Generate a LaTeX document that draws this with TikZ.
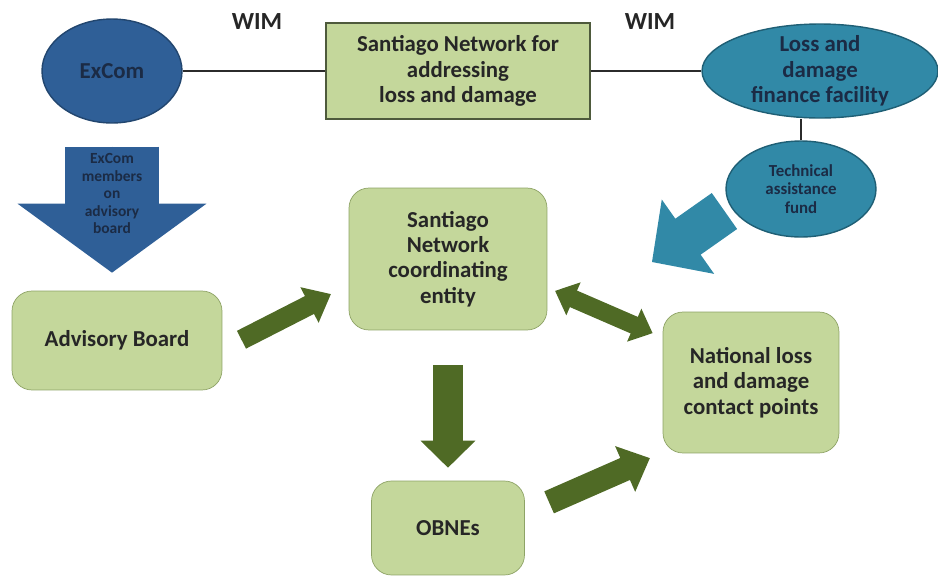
\documentclass[tikz,border=0pt]{standalone}
\usepackage{fontspec}
\setmainfont{Carlito}
\usepackage{tikz}
\usetikzlibrary{arrows.meta,shapes.geometric,calc}
\definecolor{boxgreen}{HTML}{C4D79B}
\definecolor{boxline}{HTML}{8EA366}
\definecolor{rectline}{HTML}{4E5A3C}
\definecolor{olivearrow}{HTML}{4F6A25}
\definecolor{excomblue}{HTML}{2F5F97}
\definecolor{excomline}{HTML}{22466F}
\definecolor{tealfill}{HTML}{3189A7}
\definecolor{tealline}{HTML}{1F5F75}
\definecolor{navytext}{HTML}{1B2B45}
\definecolor{textdark}{HTML}{262626}
\definecolor{wireline}{HTML}{2B2B2B}

\begin{document}
\begin{tikzpicture}[x=0.02cm,y=-0.02cm,
  bigfont/.style={font=\fontsize{13}{14.5}\selectfont\bfseries},
  gbox/.style={draw=boxline, fill=boxgreen, rounded corners=0.4cm, align=center, bigfont, text=textdark},
  blob/.style={ellipse, inner sep=0pt, line width=0.8pt},
  wire/.style={draw=wireline, line width=1pt},
  fat/.style={draw=olivearrow, line cap=butt}]
\useasboundingbox (0,0) rectangle (938,579);

\node[blob, draw=excomline, fill=excomblue, minimum width=2.8cm, minimum height=2.08cm, bigfont, text=navytext] (excom) at (112,71) {ExCom};
\node[draw=rectline, fill=boxgreen, line width=0.8pt, minimum width=5.28cm, minimum height=1.92cm, align=center, bigfont, text=textdark] (snl) at (458,71) {Santiago Network for\\addressing\\loss and damage};
\node[blob, draw=tealline, fill=tealfill, minimum width=4.72cm, minimum height=1.88cm, label={[bigfont, text=navytext, align=center]center:Loss and\\damage\\finance facility}] (ldff) at (820,71) {};
\node[blob, draw=tealline, fill=tealfill, minimum width=3cm, minimum height=1.92cm, align=center, font=\fontsize{9.6}{10.6}\selectfont\bfseries, text=navytext] (taf) at (801,189) {Technical\\assistance\\fund};

\node[font=\fontsize{14}{16}\selectfont\bfseries, text=textdark] (wimleft) at (257,22) {WIM};
\node[font=\fontsize{14}{16}\selectfont\bfseries, text=textdark] (wimright) at (650,22) {WIM};

\node[gbox, minimum width=4.2cm, minimum height=1.98cm] (board) at (117,340.5) {Advisory Board};
\node[gbox, minimum width=3.96cm, minimum height=2.84cm] (coord) at (448,259) {Santiago\\Network\\coordinating\\entity};
\node[gbox, minimum width=3.52cm, minimum height=2.82cm] (national) at (751,382.5) {National loss\\and damage\\contact points};
\node[gbox, minimum width=3.06cm, minimum height=1.88cm] (obnes) at (448,528) {OBNEs};

\coordinate (tafend) at (652,262);

\draw[wire] (excom) -- (snl);
\draw[wire] (snl) -- (ldff);
\draw[wire] (taf.north) -- (taf.north |- ldff.south);

\draw[draw=excomblue, line width=1.88cm, shorten <=0.46cm, shorten >=1.74cm,
  postaction={draw, line width=0.2pt, shorten >=0.36cm, -{Triangle[width=3.78cm,length=1.38cm,line width=0pt]}}] (excom.south) -- (excom.south |- board.north)
  node[pos=.42, align=center, font=\fontsize{8.8}{10}\selectfont\bfseries, text=navytext] (excomnote) {ExCom\\members\\on\\advisory\\board};

\draw[draw=tealfill, line width=0.88cm, shorten <=0.16cm, shorten >=0.86cm,
  postaction={draw, line width=0.2pt, shorten >=0pt, -{Triangle[width=1.82cm,length=0.88cm,line width=0pt]}}] ($(taf.center)+(-70,17.4)$) -- (tafend);

\draw[fat, line width=0.4cm, shorten <=0.43cm, shorten >=0.86cm,
  postaction={draw, line width=0.2pt, shorten >=0.4cm, -{Triangle[width=0.8cm,length=0.48cm,line width=0pt]}}] ($(board.east)+(0,9)$) -- ($(coord.west)+(0,26)$);
\draw[fat, line width=0.6cm, shorten <=0.7cm, shorten >=0.78cm,
  postaction={draw, line width=0.2pt, shorten >=0.26cm, -{Triangle[width=1.1cm,length=0.54cm,line width=0pt]}}] (coord) -- (obnes);
\draw[fat, line width=0.36cm, shorten <=0.55cm, shorten >=0.6cm,
  postaction={draw, line width=0.2pt, shorten <=0.17cm, shorten >=0.22cm, {Triangle[width=0.72cm,length=0.4cm,line width=0pt]}-{Triangle[width=0.72cm,length=0.4cm,line width=0pt]}}] ($(coord.east)+(0,28.5)$) -- ($(national.west)+(0,-45)$);
\draw[fat, line width=0.48cm, shorten <=0.53cm, shorten >=0.8cm,
  postaction={draw, line width=0.2pt, shorten >=0.28cm, -{Triangle[width=1cm,length=0.54cm,line width=0pt]}}] ($(obnes.east)+(0,-15)$) -- ($(national.west)+(0,70)$);

\end{tikzpicture}
\end{document}
